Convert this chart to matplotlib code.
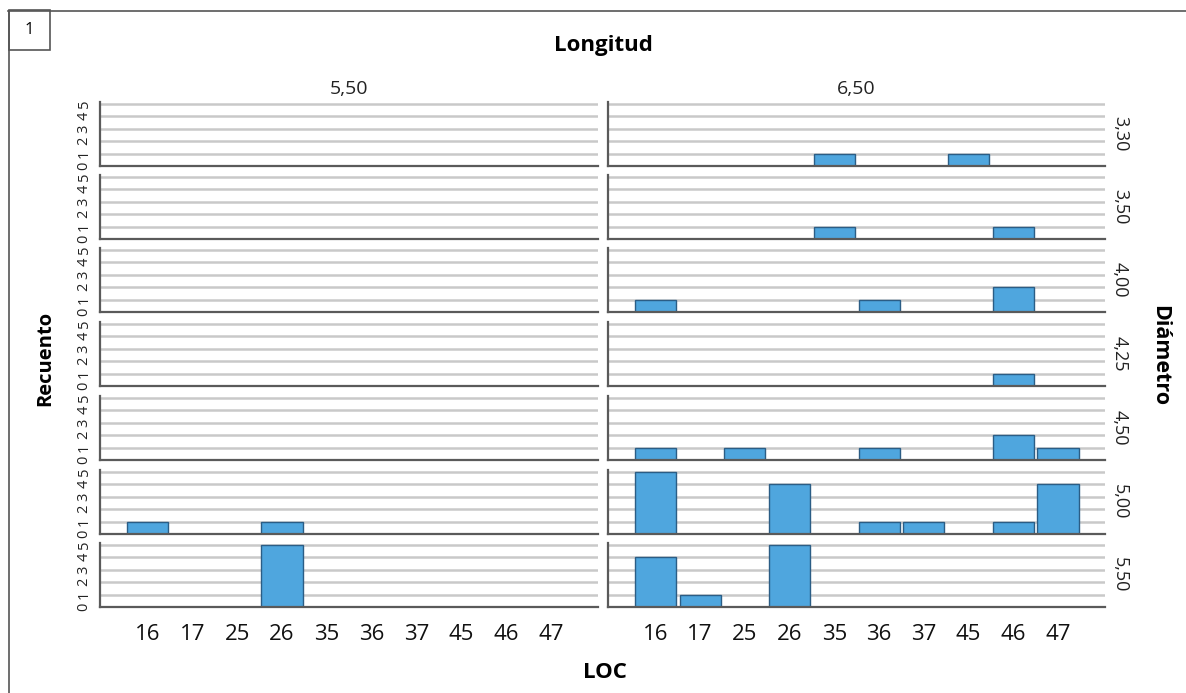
import matplotlib.pyplot as plt
from matplotlib.lines import Line2D
from matplotlib.patches import Rectangle

plt.rcParams['font.family'] = ['Open Sans', 'DejaVu Sans']

# categories
loc_labels = ['16', '17', '25', '26', '35', '36', '37', '45', '46', '47']
longitud = ['5,50', '6,50']
diametro = ['3,30', '3,50', '4,00', '4,25', '4,50', '5,00', '5,50']

# counts per Diámetro row, one list per Longitud column
counts_550 = [
    [0, 0, 0, 0, 0, 0, 0, 0, 0, 0],
    [0, 0, 0, 0, 0, 0, 0, 0, 0, 0],
    [0, 0, 0, 0, 0, 0, 0, 0, 0, 0],
    [0, 0, 0, 0, 0, 0, 0, 0, 0, 0],
    [0, 0, 0, 0, 0, 0, 0, 0, 0, 0],
    [1, 0, 0, 1, 0, 0, 0, 0, 0, 0],
    [0, 0, 0, 5, 0, 0, 0, 0, 0, 0],
]
counts_650 = [
    [0, 0, 0, 0, 1, 0, 0, 1, 0, 0],
    [0, 0, 0, 0, 1, 0, 0, 0, 1, 0],
    [1, 0, 0, 0, 0, 1, 0, 0, 2, 0],
    [0, 0, 0, 0, 0, 0, 0, 0, 1, 0],
    [1, 0, 1, 0, 0, 1, 0, 0, 2, 1],
    [5, 0, 0, 4, 0, 1, 1, 0, 1, 4],
    [4, 1, 0, 5, 0, 0, 0, 0, 0, 0],
]
yticks = [0, 1, 2, 3, 4, 5]

W, H = 1186, 693
fig = plt.figure(figsize=(W / 100, H / 100), dpi=100)

col_x = [(100, 598), (608, 1105)]
row_top = [102, 175, 248, 322, 396, 470, 543]
row_h = 64

bar_color = '#4fa6de'
edge_color = '#2b5d85'
spine_color = '#5a5a5a'
grid_color = '#c9c9c9'

x = list(range(len(loc_labels)))
for ci, data in enumerate([counts_550, counts_650]):
    x0, x1 = col_x[ci]
    for ri in range(len(diametro)):
        top = row_top[ri]
        ax = fig.add_axes([x0 / W, 1 - (top + row_h) / H, (x1 - x0) / W, row_h / H])
        ax.set_xlim(-1.06, 10.05)
        ax.set_ylim(0, 5.15)
        ax.set_yticks(yticks)
        ax.grid(axis='y', color=grid_color, linewidth=1.8)
        ax.set_axisbelow(True)
        ax.bar(x, data[ri], width=0.92, color=bar_color, edgecolor=edge_color, linewidth=1.0)
        for s in ['top', 'right']:
            ax.spines[s].set_visible(False)
        for s in ['left', 'bottom']:
            ax.spines[s].set_color(spine_color)
            ax.spines[s].set_linewidth(1.6)
        ax.tick_params(length=0)
        if ci == 0:
            ax.set_yticklabels([str(v) for v in yticks], rotation=90, va='center',
                               fontsize=10.5, color='#222222')
            ax.tick_params(axis='y', pad=6)
        else:
            ax.set_yticklabels([])
            ax.text(1.012, 0.5, diametro[ri], transform=ax.transAxes, rotation=-90,
                    ha='left', va='center', fontsize=13, color='#222222')
        if ri == len(diametro) - 1:
            ax.set_xticks(x)
            ax.set_xticklabels(loc_labels, fontsize=16, color='#111111')
            ax.tick_params(axis='x', pad=12)
        else:
            ax.set_xticks([])
        if ri == 0:
            ax.set_title(longitud[ci], fontsize=14, pad=6, color='#222222')

fig.text(603 / W, 1 - 45 / H, 'Longitud', ha='center', va='center', fontsize=16, fontweight='bold')
fig.text(605 / W, 1 - 672 / H, 'LOC', ha='center', va='center', fontsize=16, fontweight='bold')
fig.text(45 / W, 1 - 358 / H, 'Recuento', ha='center', va='center', rotation=90,
         fontsize=14.5, fontweight='bold')
fig.text(1160 / W, 1 - 356 / H, 'Diámetro', ha='center', va='center', rotation=-90,
         fontsize=15.5, fontweight='bold')

# outer frame and panel number box
fig.add_artist(Line2D([8 / W, 1], [1 - 10.5 / H, 1 - 10.5 / H], color='#555555', linewidth=1.2))
fig.add_artist(Line2D([8.5 / W, 8.5 / W], [0, 1 - 10.5 / H], color='#555555', linewidth=1.2))
fig.add_artist(Rectangle((8.5 / W, 1 - 50 / H), 41 / W, 39.5 / H, fill=False,
                         edgecolor='#555555', linewidth=1.2, transform=fig.transFigure))
fig.text(29 / W, 1 - 30 / H, '1', ha='center', va='center', fontsize=12)

fig.savefig('out.png', dpi=100)
